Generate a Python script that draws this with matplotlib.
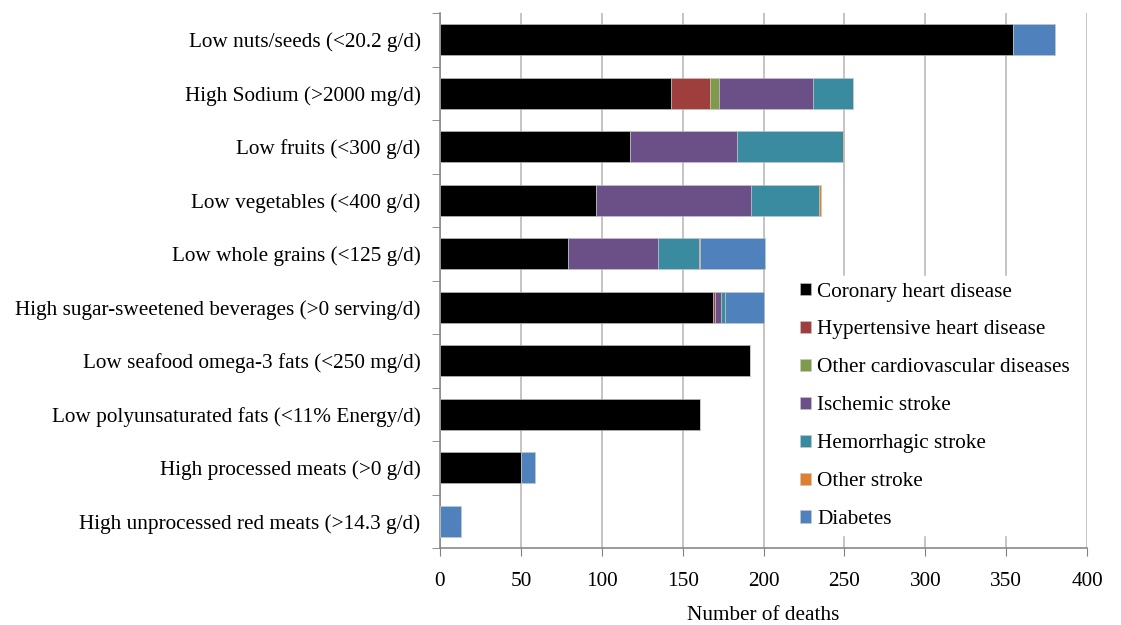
import numpy as np
import matplotlib
matplotlib.use('Agg')
import matplotlib.pyplot as plt
from matplotlib.ticker import MultipleLocator, FixedLocator

plt.rcParams['font.family'] = ['Liberation Serif', 'DejaVu Serif']

categories = [
    'Low nuts/seeds (<20.2 g/d)',
    'High Sodium (>2000 mg/d)',
    'Low fruits (<300 g/d)',
    'Low vegetables (<400 g/d)',
    'Low whole grains (<125 g/d)',
    'High sugar-sweetened beverages (>0 serving/d)',
    'Low seafood omega-3 fats (<250 mg/d)',
    'Low polyunsaturated fats (<11% Energy/d)',
    'High processed meats (>0 g/d)',
    'High unprocessed red meats (>14.3 g/d)',
]

series_names = [
    'Coronary heart disease',
    'Hypertensive heart disease',
    'Other cardiovascular diseases',
    'Ischemic stroke',
    'Hemorrhagic stroke',
    'Other stroke',
    'Diabetes',
]

coronary     = [354, 143, 117.5, 96.5, 79, 169, 191.7, 160.7, 50, 0]
hypertensive = [0, 24, 0, 0, 0, 1.2, 0, 0, 0, 0]
other_cvd    = [0, 5.5, 0, 0, 0, 0, 0, 0, 0, 0]
ischemic     = [0, 58, 66, 96, 56, 3.3, 0, 0, 0, 0]
hemorrhagic  = [0, 25, 65.5, 42, 25, 3, 0, 0, 0, 0]
other_stroke = [0, 0, 1, 1, 0.5, 0, 0, 0, 0, 0]
diabetes     = [26, 0, 0, 0, 40.5, 23.7, 0, 0, 8.5, 13]

colors = ['#000000', '#9E3F3D', '#7F9A48', '#6A5086', '#3A8BA0', '#E07F30', '#4F81BD']

data = [coronary, hypertensive, other_cvd, ischemic, hemorrhagic, other_stroke, diabetes]

fig, ax = plt.subplots(figsize=(11.21, 6.25), dpi=100)
fig.subplots_adjust(left=0.3925, right=0.9697, top=0.979, bottom=0.1232)

y = np.arange(len(categories))
left = np.zeros(len(categories))
for vals, name, c in zip(data, series_names, colors):
    vals = np.array(vals)
    ax.barh(y, vals, left=left, height=0.58, color=c, label=name,
            edgecolor='#c8c8c8', linewidth=0.4, zorder=3)
    left += vals

fs = 15.3
ax.set_ylim(len(categories) - 0.5, -0.5)
ax.set_yticks(y)
ax.set_yticklabels(categories, fontsize=fs)
ax.tick_params(axis='y', which='major', length=0, pad=14)
ax.yaxis.set_minor_locator(FixedLocator(np.arange(-0.5, len(categories), 1)))
ax.tick_params(axis='y', which='minor', length=6, color='#808080', direction='out')

ax.set_xlim(0, 400)
ax.xaxis.set_major_locator(MultipleLocator(50))
ax.tick_params(axis='x', length=6, color='#808080', labelsize=fs, pad=11)
ax.grid(axis='x', color='#b4b4b4', linewidth=1.1, zorder=0)
ax.set_axisbelow(True)

for s in ['top', 'right']:
    ax.spines[s].set_visible(False)
for s in ['left', 'bottom']:
    ax.spines[s].set_color('#808080')
    ax.spines[s].set_linewidth(1.1)

ax.set_xlabel('Number of deaths', fontsize=fs, labelpad=11)

leg = ax.legend(loc='upper left', bbox_to_anchor=(0.53, 0.528), frameon=True,
                fontsize=fs, handlelength=0.5, handleheight=0.5,
                handletextpad=0.3, labelspacing=0.89, borderpad=0.3,
                fancybox=False)
leg.get_frame().set_edgecolor('white')
leg.get_frame().set_facecolor('white')
leg.get_frame().set_alpha(1)
leg.set_zorder(5)

fig.savefig('out.png', dpi=100)
